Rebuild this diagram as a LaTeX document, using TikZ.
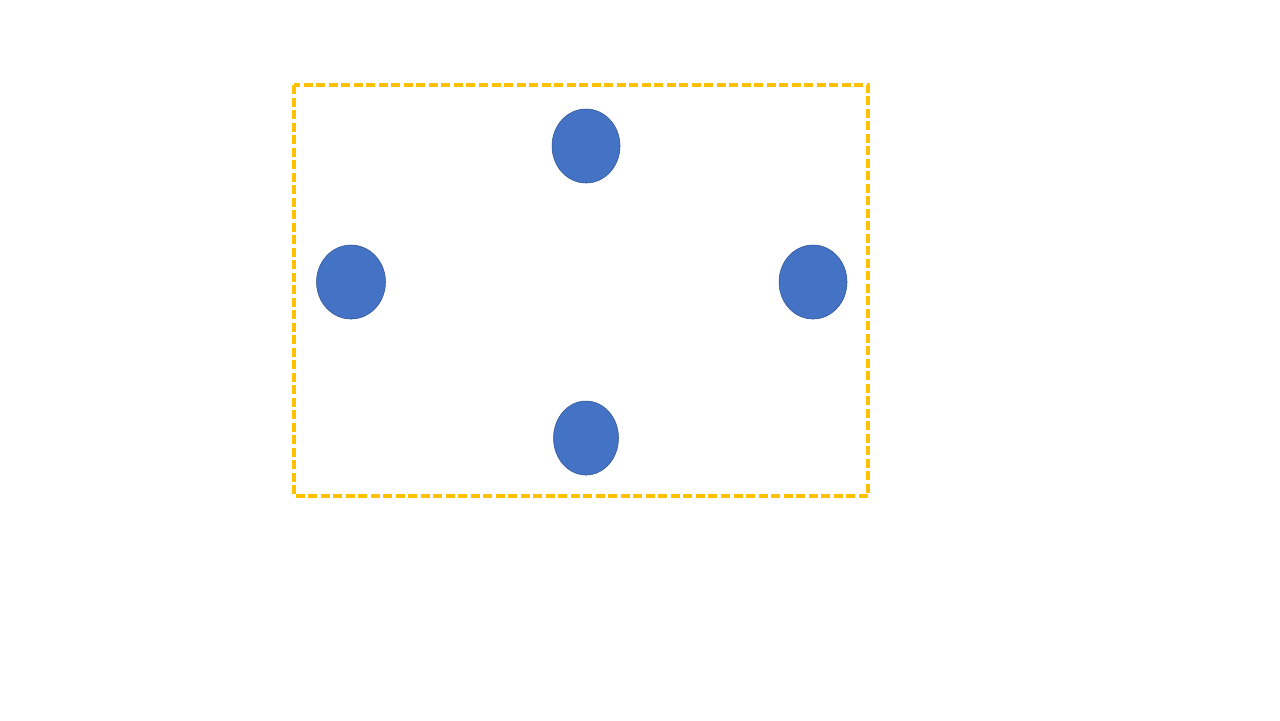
\documentclass[tikz,border=0pt]{standalone}
\usetikzlibrary{shapes.geometric}
\definecolor{frameorange}{HTML}{FFC000}
\definecolor{dotblue}{HTML}{4472C4}
\definecolor{dotedge}{HTML}{2F528F}
\begin{document}
\begin{tikzpicture}[x=0.01cm,y=-0.01cm,
  frame/.style={draw=frameorange,line width=0.032cm,dash pattern=on 0.09cm off 0.035cm},
  dot/.style={ellipse,fill=dotblue,draw=dotedge,line width=0.005cm,inner sep=0pt}]
\useasboundingbox (0,0) rectangle (1280,720);
\draw[frame] (294,85) rectangle (868,496);
\node[dot,minimum width=0.68cm,minimum height=0.74cm] (top) at (586,146) {};
\node[dot,minimum width=0.69cm,minimum height=0.74cm] (left) at (351,282) {};
\node[dot,minimum width=0.68cm,minimum height=0.74cm] (right) at (813,282) {};
\node[dot,minimum width=0.65cm,minimum height=0.74cm] (bottom) at (586,438) {};
\end{tikzpicture}
\end{document}
